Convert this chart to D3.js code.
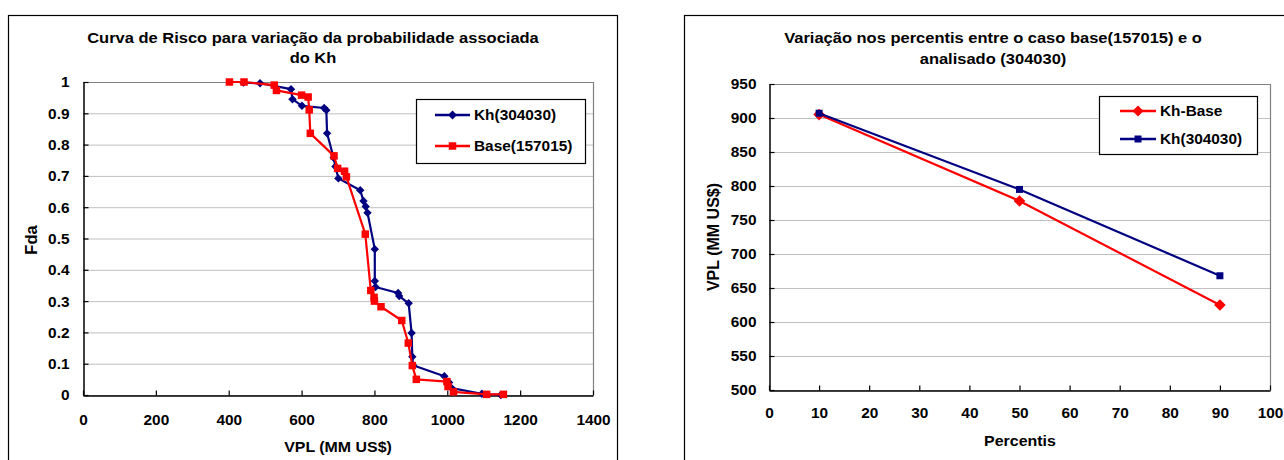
<!DOCTYPE html>
<html>
<head>
<meta charset="utf-8">
<script src="https://cdn.jsdelivr.net/npm/d3@7"></script>
<style>
body { margin: 0; background: #fff; }
svg text { font-family: "Liberation Sans", Arial, sans-serif; font-weight: bold; fill: #000; }
</style>
</head>
<body>
<svg id="chart" width="1284" height="460"></svg>
<script>
// left chart: risk curves (VPL vs Fda)
let kh_vpl = [440, 486, 571, 575, 601, 662, 668, 670, 688, 693, 701, 761, 770, 776, 781, 801, 801, 803, 865, 868, 894, 902, 904, 906, 992, 1005, 1012, 1095, 1147];
let kh_fda = [0.998, 0.996, 0.977, 0.945, 0.924, 0.917, 0.910, 0.836, 0.758, 0.730, 0.692, 0.654, 0.620, 0.602, 0.582, 0.466, 0.364, 0.345, 0.326, 0.316, 0.293, 0.198, 0.122, 0.095, 0.060, 0.040, 0.022, 0.004, 0.0];
let base_vpl = [402, 442, 525, 531, 600, 618, 621, 624, 689, 699, 718, 723, 775, 790, 799, 800, 818, 875, 893, 904, 915, 999, 1002, 1017, 1108, 1154];
let base_fda = [1.0, 1.0, 0.990, 0.973, 0.958, 0.952, 0.911, 0.836, 0.764, 0.724, 0.715, 0.697, 0.514, 0.334, 0.312, 0.300, 0.282, 0.238, 0.166, 0.094, 0.050, 0.043, 0.027, 0.010, 0.002, 0.002];
let left_x_ticks = [0, 200, 400, 600, 800, 1000, 1200, 1400];
let left_y_ticks = [0, 0.1, 0.2, 0.3, 0.4, 0.5, 0.6, 0.7, 0.8, 0.9, 1];

// right chart: percentiles
let percentis = [10, 50, 90];
let kh_base_vpl = [905, 778, 625];
let kh_304030_vpl = [907, 795, 668];
let right_x_ticks = [0, 10, 20, 30, 40, 50, 60, 70, 80, 90, 100];
let right_y_ticks = [500, 550, 600, 650, 700, 750, 800, 850, 900, 950];

let red = '#ff0000',
	navy = '#000080',
	grid_color = '#c0c0c0',
	border_color = '#808080';

let stretch = 1.1;

let svg = d3.select('#chart');

function add_text(x, y, str, size, anchor) {
	return svg.append('text')
		.attr('transform', `translate(${x},${y}) scale(${stretch},1)`)
		.attr('text-anchor', anchor || 'middle')
		.attr('dy', '0.35em')
		.style('font-size', size + 'px')
		.text(str);
}

function add_vtext(x, y, str, size) {
	return svg.append('text')
		.attr('transform', `translate(${x},${y}) rotate(-90)`)
		.attr('text-anchor', 'middle')
		.attr('dy', '0.35em')
		.style('font-size', size + 'px')
		.text(str);
}

function diamond(r) {
	return `M0,${-r}L${r},0L0,${r}L${-r},0Z`;
}

function square(s) {
	let h = s / 2;
	return `M${-h},${-h}H${h}V${h}H${-h}Z`;
}

// frame, grid, border and axes of one plot
function draw_plot(x, y, x_ticks, y_ticks, x_fmt, y_fmt, x_lab_dy, y_lab_dx) {
	let [x0, x1] = x.range();
	let [y0, y1] = y.range();

	svg.append('g').selectAll('line')
		.data(y_ticks)
		.enter().append('line')
		.attr('x1', x0).attr('x2', x1)
		.attr('y1', d => y(d) + 0.5).attr('y2', d => y(d) + 0.5)
		.attr('stroke', grid_color)
		.attr('stroke-width', 1);

	svg.append('path')
		.attr('d', `M${x0},${y1 + 0.5}H${x1 + 0.5}V${y0}`)
		.attr('fill', 'none')
		.attr('stroke', border_color)
		.attr('stroke-width', 1.2);

	let x_axis = svg.append('g')
		.attr('transform', `translate(0,${y0 + 0.5})`)
		.call(d3.axisBottom(x).tickValues(x_ticks).tickSize(-5).tickSizeOuter(0).tickFormat(x_fmt));
	x_axis.selectAll('text')
		.attr('y', x_lab_dy)
		.attr('dy', '0.35em')
		.attr('transform', `scale(${stretch},1)`);

	let y_axis = svg.append('g')
		.attr('transform', `translate(${x0 + 0.5},0)`)
		.call(d3.axisLeft(y).tickValues(y_ticks).tickSize(-5).tickSizeOuter(0).tickFormat(y_fmt));
	y_axis.selectAll('text')
		.attr('x', -y_lab_dx / stretch)
		.attr('dy', '0.35em')
		.attr('transform', `scale(${stretch},1)`);

	svg.selectAll('.domain').attr('stroke', '#000').attr('stroke-width', 1.5);
	svg.selectAll('.tick line').attr('stroke', '#000').attr('stroke-width', 1.2);
	svg.selectAll('.tick text').style('font-size', '14px').attr('font-family', null).attr('fill', '#000');
}

function draw_series(xs, ys, x, y, color, shape) {
	let pts = xs.map((d, i) => [x(d), y(ys[i])]);
	svg.append('path')
		.attr('d', d3.line()(pts))
		.attr('fill', 'none')
		.attr('stroke', color)
		.attr('stroke-width', 2.2)
		.attr('stroke-linejoin', 'round');
	svg.append('g').selectAll('path')
		.data(pts)
		.enter().append('path')
		.attr('transform', d => `translate(${d[0]},${d[1]})`)
		.attr('d', shape)
		.attr('fill', color);
}

function draw_legend(bx, by, bw, bh, items) {
	svg.append('rect')
		.attr('x', bx + 0.5).attr('y', by + 0.5)
		.attr('width', bw).attr('height', bh)
		.attr('fill', '#fff')
		.attr('stroke', '#000')
		.attr('stroke-width', 1.2);
	items.forEach(it => {
		svg.append('line')
			.attr('x1', it.x1).attr('x2', it.x2)
			.attr('y1', it.y).attr('y2', it.y)
			.attr('stroke', it.color)
			.attr('stroke-width', 2.4);
		svg.append('path')
			.attr('transform', `translate(${(it.x1 + it.x2) / 2},${it.y})`)
			.attr('d', it.shape)
			.attr('fill', it.color);
		add_text(it.x2 + 4, it.y, it.label, 14, 'start');
	});
}

// outer frames
svg.append('rect')
	.attr('x', 8.5).attr('y', 15.5).attr('width', 609).attr('height', 470)
	.attr('fill', 'none').attr('stroke', '#000').attr('stroke-width', 1.2);
svg.append('rect')
	.attr('x', 684.5).attr('y', 15.5).attr('width', 640).attr('height', 470)
	.attr('fill', 'none').attr('stroke', '#000').attr('stroke-width', 1.2);

// ---- left chart
let x_left = d3.scaleLinear().domain([0, 1400]).range([83, 593]);
let y_left = d3.scaleLinear().domain([0, 1]).range([395, 82]);

add_text(313, 38, 'Curva de Risco para variação da probabilidade associada', 15);
add_text(313, 58, 'do Kh', 15);

draw_plot(x_left, y_left, left_x_ticks, left_y_ticks, d3.format('d'), d => d3.format('.1~f')(d), 25, 14);

draw_series(kh_vpl, kh_fda, x_left, y_left, navy, diamond(4.2));
draw_series(base_vpl, base_fda, x_left, y_left, red, square(7.5));

add_text(338, 447, 'VPL (MM US$)', 14.5);
add_vtext(31, 240, 'Fda', 16.5);

draw_legend(416, 99, 169, 64, [
	{x1: 435, x2: 470, y: 115, color: navy, shape: diamond(4.5), label: 'Kh(304030)'},
	{x1: 435, x2: 470, y: 146, color: red, shape: square(7.5), label: 'Base(157015)'}
]);

// ---- right chart
let x_right = d3.scaleLinear().domain([0, 100]).range([769, 1270]);
let y_right = d3.scaleLinear().domain([500, 950]).range([390, 84]);

add_text(993, 38, 'Variação nos percentis entre o caso base(157015) e o', 15);
add_text(993, 59, 'analisado (304030)', 15);

draw_plot(x_right, y_right, right_x_ticks, right_y_ticks, d3.format('d'), d3.format('d'), 23, 13);

draw_series(percentis, kh_base_vpl, x_right, y_right, red, diamond(5.8));
draw_series(percentis, kh_304030_vpl, x_right, y_right, navy, square(7));

add_text(1020, 441, 'Percentis', 14.5);
add_vtext(713, 237, 'VPL (MM US$)', 16);

draw_legend(1099, 96, 158, 58, [
	{x1: 1120, x2: 1156, y: 111, color: red, shape: diamond(5.5), label: 'Kh-Base'},
	{x1: 1120, x2: 1156, y: 139, color: navy, shape: square(7), label: 'Kh(304030)'}
]);
</script>
</body>
</html>
